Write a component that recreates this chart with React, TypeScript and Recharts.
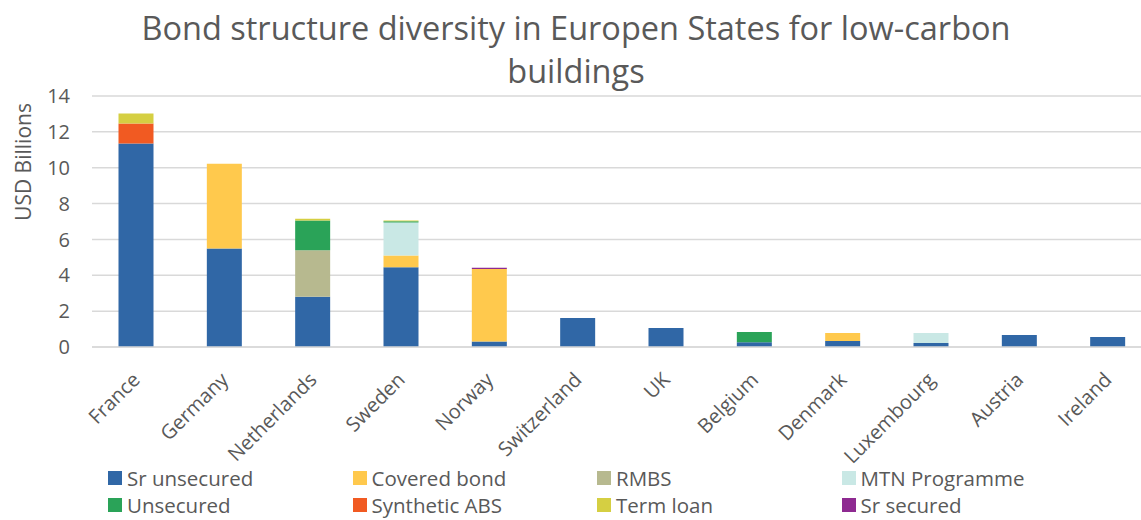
import { BarChart, Bar, XAxis, YAxis, CartesianGrid, Label } from "recharts";

const categories = [
  "France",
  "Germany",
  "Netherlands",
  "Sweden",
  "Norway",
  "Switzerland",
  "UK",
  "Belgium",
  "Denmark",
  "Luxembourg",
  "Austria",
  "Ireland",
];

const srUnsecured = [11.35, 5.5, 2.8, 4.45, 0.3, 1.62, 1.06, 0.26, 0.33, 0.22, 0.67, 0.56];
const coveredBond = [0, 4.72, 0, 0.65, 4.05, 0, 0, 0, 0.45, 0, 0, 0];
const rmbs = [0, 0, 2.6, 0, 0, 0, 0, 0, 0, 0, 0, 0];
const mtnProgramme = [0, 0, 0, 1.85, 0, 0, 0, 0, 0, 0.56, 0, 0];
const unsecured = [0, 0, 1.65, 0.06, 0, 0, 0, 0.58, 0, 0, 0, 0];
const syntheticAbs = [1.12, 0, 0, 0, 0, 0, 0, 0, 0, 0, 0, 0];
const termLoan = [0.55, 0, 0.1, 0.04, 0, 0, 0, 0, 0, 0, 0, 0];
const srSecured = [0, 0, 0, 0, 0.07, 0, 0, 0, 0, 0, 0, 0];

const yTicks = [0, 2, 4, 6, 8, 10, 12, 14];

const series = [
  { key: "srUnsecured", name: "Sr unsecured", values: srUnsecured, color: "#3067a6" },
  { key: "coveredBond", name: "Covered bond", values: coveredBond, color: "#ffc94d" },
  { key: "rmbs", name: "RMBS", values: rmbs, color: "#b7b98f" },
  { key: "mtnProgramme", name: "MTN Programme", values: mtnProgramme, color: "#c9e8e5" },
  { key: "unsecured", name: "Unsecured", values: unsecured, color: "#2aa358" },
  { key: "syntheticAbs", name: "Synthetic ABS", values: syntheticAbs, color: "#f15a22" },
  { key: "termLoan", name: "Term loan", values: termLoan, color: "#d5cf42" },
  { key: "srSecured", name: "Sr secured", values: srSecured, color: "#8e2a91" },
];

const data = categories.map((country, i) => {
  const row: Record<string, string | number> = { country };
  series.forEach((s) => {
    row[s.key] = s.values[i];
  });
  return row;
});

const FONT = "'Open Sans', sans-serif";
const TEXT = "#595959";

function CountryTick({ x, y, payload }: any) {
  return (
    <g transform={`translate(${x - 5},${y + 16})`}>
      <text
        x={0}
        y={0}
        dy="0.71em"
        textAnchor="end"
        transform="rotate(-45)"
        fill={TEXT}
        fontSize={20}
        fontFamily={FONT}
      >
        {payload.value}
      </text>
    </g>
  );
}

export default function App() {
  return (
    <div
      style={{
        position: "fixed",
        top: 0,
        left: 0,
        width: 1141,
        height: 520,
        overflow: "hidden",
        background: "#fff",
        fontFamily: FONT,
      }}
    >
      <div
        style={{
          position: "absolute",
          top: 6,
          left: 0,
          width: 1152,
          textAlign: "center",
          fontSize: 32.5,
          lineHeight: "43px",
          color: TEXT,
        }}
      >
        Bond structure diversity in Europen States for low-carbon
        <br />
        buildings
      </div>
      <BarChart
        width={1160}
        height={520}
        data={data}
        margin={{ top: 96, right: 8, bottom: 53, left: 0 }}
        barCategoryGap="30%"
      >
        <CartesianGrid vertical={false} stroke="#d9d9d9" strokeWidth={1.5} />
        <XAxis
          dataKey="country"
          interval={0}
          height={120}
          tick={<CountryTick />}
          tickLine={false}
          axisLine={{ stroke: "#d9d9d9", strokeWidth: 1.5 }}
        />
        <YAxis
          width={92}
          domain={[0, 14]}
          ticks={yTicks}
          interval={0}
          axisLine={false}
          tickLine={false}
          tickMargin={16}
          tick={{ fill: TEXT, fontSize: 20, fontFamily: FONT }}
        >
          <Label
            content={() => (
              <text
                x={23}
                y={162}
                transform="rotate(-90 23 162)"
                textAnchor="middle"
                dominantBaseline="central"
                fill={TEXT}
                fontSize={21}
                fontFamily={FONT}
              >
                USD Billions
              </text>
            )}
          />
        </YAxis>
        {series.map((s) => (
          <Bar
            key={s.key}
            dataKey={s.key}
            name={s.name}
            stackId="a"
            fill={s.color}
            isAnimationActive={false}
          />
        ))}
      </BarChart>
      {series.map((s, i) => (
        <div
          key={s.key}
          style={{
            position: "absolute",
            left: 108 + (i % 4) * 244.5,
            top: 466 + Math.floor(i / 4) * 27,
            display: "flex",
            alignItems: "center",
            fontSize: 20.5,
            lineHeight: "24px",
            color: TEXT,
            whiteSpace: "nowrap",
          }}
        >
          <span
            style={{
              display: "inline-block",
              width: 14,
              height: 14,
              background: s.color,
              marginRight: 5,
            }}
          />
          {s.name}
        </div>
      ))}
    </div>
  );
}
